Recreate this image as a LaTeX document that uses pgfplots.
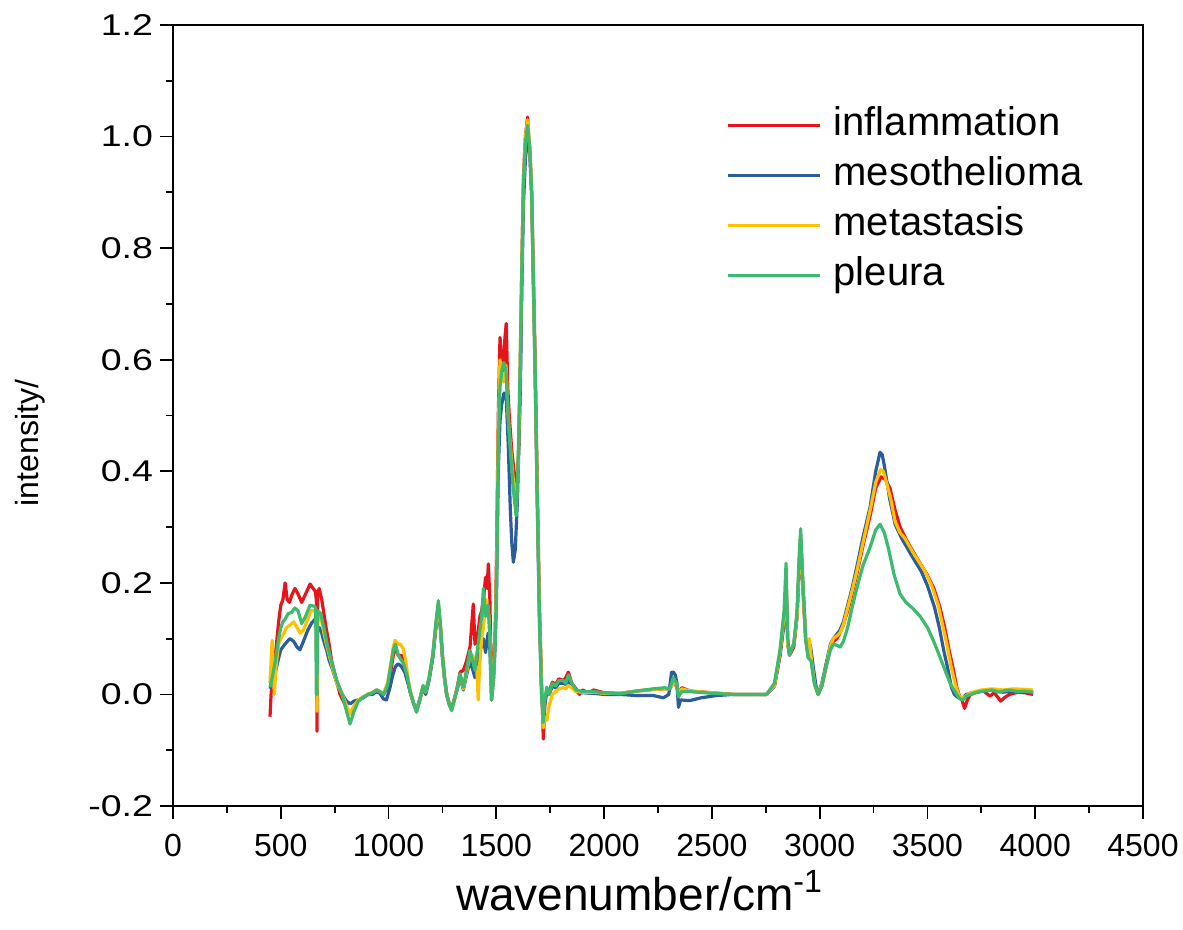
\documentclass[border=0pt]{standalone}
\usepackage{pgfplots}
\pgfplotsset{compat=1.18}
\usepackage{fontspec}
\setmainfont{Liberation Sans}

\definecolor{cinfl}{RGB}{232,20,28}
\definecolor{cmeso}{RGB}{43,92,158}
\definecolor{cmeta}{RGB}{255,192,0}
\definecolor{cpleu}{RGB}{61,186,110}

\begin{document}
\begin{tikzpicture}
\path[use as bounding box] (-86.5pt,-62pt) rectangle (505pt,403pt);
\begin{axis}[
    scale only axis,
    width=485pt, height=390.5pt,
    xmin=0, xmax=4500, ymin=-0.2, ymax=1.2,
    xtick={0,500,...,4500},
    ytick={-0.2,0,0.2,0.4,0.6,0.8,1.0,1.2},
    extra x ticks={250,750,...,4250},
    extra y ticks={-0.1,0.1,0.3,0.5,0.7,0.9,1.1},
    extra x tick labels={}, extra y tick labels={},
    extra tick style={major tick length=3.5pt},
    tick align=outside,
    xtick pos=left, ytick pos=left,
    major tick length=6.5pt,
    every tick/.style={black, line width=0.9pt},
    axis line style={line width=1pt},
    /pgf/number format/assume math mode=true,
    /pgf/number format/1000 sep={},
    yticklabel style={/pgf/number format/.cd, fixed, fixed zerofill, precision=1,
        /tikz/.cd, font=\fontsize{15}{17}\selectfont\addfontfeature{FakeStretch=1.25}},
    xticklabel style={font=\fontsize{16}{18}\selectfont, yshift=-4pt},
    xlabel={wavenumber/cm\textsuperscript{-1}},
    ylabel={intensity/},
    xlabel style={font=\fontsize{23}{26}\selectfont, at={(axis description cs:0.481,-0.108)}, anchor=center},
    ylabel style={font=\fontsize{16}{19}\selectfont, at={(axis description cs:-0.1475,0.4645)}, anchor=center, rotate=0},
    legend style={draw=none, fill=none, at={(0.564,0.905)}, anchor=north west,
        font=\fontsize{20}{24}\selectfont,
        nodes={text height=14pt, text depth=4pt, inner sep=2pt},
        row sep=3pt},
    legend cell align=left,
    legend image code/.code={\draw[#1] (0pt,0pt) -- (46pt,0pt); \path (50pt,0pt);},
    every axis plot/.append style={line width=1.6pt, line join=round},
]
\addplot[cinfl] table {
x y
450 -0.04
455 0.0
462 0.03
475 0.07
490 0.13
500 0.16
510 0.17
520 0.20
530 0.17
540 0.165
553 0.18
566 0.19
580 0.18
597 0.165
615 0.18
636 0.198
650 0.19
660 0.185
665 0.17
668 -0.066
671 0.18
678 0.19
690 0.17
698 0.15
710 0.12
722 0.095
736 0.06
755 0.03
775 0.0
800 -0.02
821 -0.035
840 -0.025
860 -0.01
883 -0.005
905 0.0
925 0.003
945 0.008
960 0.005
976 0.0
995 0.012
1010 0.04
1022 0.07
1032 0.085
1045 0.07
1061 0.07
1075 0.05
1090 0.025
1100 0.005
1115 -0.015
1130 -0.03
1145 -0.01
1160 0.014
1172 0.003
1188 0.028
1205 0.068
1220 0.125
1231 0.16
1240 0.125
1250 0.07
1260 0.03
1270 0.0
1283 -0.018
1293 -0.025
1305 -0.008
1318 0.012
1332 0.04
1347 0.043
1362 0.06
1378 0.085
1393 0.162
1401 0.09
1412 0.10
1424 0.14
1432 0.15
1440 0.17
1450 0.21
1457 0.19
1463 0.234
1470 0.17
1478 0.0
1488 0.05
1495 0.12
1501 0.25
1509 0.50
1517 0.64
1525 0.60
1532 0.58
1540 0.64
1546 0.665
1553 0.55
1560 0.50
1571 0.44
1585 0.39
1595 0.37
1605 0.45
1612 0.6
1618 0.76
1626 0.93
1635 1.0
1645 1.035
1650 1.0
1655 0.98
1664 0.90
1671 0.77
1680 0.60
1690 0.37
1700 0.16
1710 0.02
1718 -0.08
1725 -0.02
1734 0.01
1745 0.005
1760 0.022
1775 0.018
1790 0.028
1811 0.025
1822 0.03
1834 0.04
1850 0.02
1870 0.01
1885 0.0
1900 0.008
1930 0.002
1950 0.008
2000 0.003
2074 0.002
2150 0.006
2228 0.009
2280 0.01
2305 0.01
2321 0.022
2335 0.015
2345 0.002
2360 0.012
2400 0.006
2500 0.003
2600 0.0
2700 0.0
2754 0.0
2790 0.015
2816 0.07
2835 0.13
2844 0.20
2852 0.09
2860 0.07
2880 0.085
2895 0.14
2905 0.23
2912 0.28
2920 0.21
2935 0.10
2946 0.07
2955 0.09
2965 0.05
2980 0.015
2993 0.0
3010 0.015
3030 0.05
3050 0.085
3063 0.095
3080 0.10
3094 0.11
3110 0.125
3130 0.15
3150 0.18
3172 0.215
3200 0.265
3234 0.32
3260 0.37
3285 0.39
3305 0.385
3326 0.37
3350 0.33
3373 0.30
3404 0.276
3450 0.245
3497 0.216
3530 0.19
3558 0.156
3580 0.12
3600 0.08
3620 0.045
3636 0.013
3650 -0.005
3660 -0.01
3672 -0.025
3685 -0.01
3700 0.0
3730 0.004
3760 0.006
3790 -0.003
3810 0.003
3840 -0.012
3860 -0.005
3880 0.0
3920 0.004
3950 0.003
3990 0.0
};
\addlegendentry{inflammation}
\addplot[cmeso] table {
x y
450 0.01
460 0.02
475 0.04
490 0.065
500 0.08
515 0.088
530 0.095
543 0.10
560 0.095
575 0.085
589 0.08
605 0.095
625 0.115
643 0.128
660 0.135
668 0.12
678 0.12
690 0.11
700 0.095
713 0.079
725 0.06
740 0.045
760 0.02
785 0.0
805 -0.012
821 -0.017
840 -0.012
860 -0.01
883 -0.006
905 0.0
925 0.0
945 0.005
960 0.002
976 -0.008
990 -0.01
1005 0.01
1020 0.035
1032 0.05
1045 0.055
1060 0.05
1075 0.04
1090 0.02
1100 0.005
1115 -0.015
1130 -0.028
1145 -0.008
1160 0.012
1172 0.0
1188 0.025
1205 0.065
1220 0.12
1231 0.15
1240 0.12
1250 0.065
1260 0.025
1270 -0.002
1283 -0.02
1293 -0.025
1305 -0.01
1318 0.008
1332 0.03
1347 0.008
1362 0.035
1378 0.06
1390 0.045
1401 0.03
1412 0.055
1424 0.08
1432 0.085
1440 0.10
1450 0.075
1462 0.11
1470 0.08
1478 -0.01
1488 0.03
1495 0.09
1501 0.18
1509 0.40
1517 0.49
1525 0.52
1535 0.54
1545 0.54
1555 0.45
1565 0.33
1572 0.27
1579 0.237
1588 0.26
1598 0.35
1605 0.45
1612 0.56
1618 0.72
1626 0.88
1635 0.96
1645 1.0
1655 0.97
1664 0.89
1671 0.75
1680 0.57
1690 0.34
1700 0.13
1710 0.0
1718 -0.04
1725 -0.015
1734 0.005
1745 0.0
1760 0.015
1775 0.012
1790 0.02
1811 0.02
1822 0.018
1834 0.025
1850 0.015
1870 0.005
1900 0.003
1950 0.002
2000 0.0
2074 0.0
2150 -0.002
2228 -0.002
2275 -0.006
2300 0.0
2313 0.04
2321 0.04
2330 0.035
2338 0.02
2345 -0.023
2355 -0.01
2398 -0.011
2450 -0.006
2522 -0.002
2600 0.0
2700 0.0
2754 0.0
2790 0.015
2816 0.07
2835 0.13
2844 0.20
2852 0.09
2860 0.075
2880 0.09
2895 0.14
2905 0.23
2912 0.28
2920 0.21
2935 0.10
2946 0.075
2958 0.085
2970 0.05
2983 0.015
2993 0.0
3010 0.02
3030 0.055
3050 0.09
3063 0.10
3080 0.108
3094 0.115
3110 0.13
3130 0.16
3150 0.19
3172 0.228
3200 0.28
3234 0.336
3260 0.40
3280 0.434
3290 0.43
3300 0.41
3325 0.35
3350 0.305
3380 0.28
3425 0.25
3472 0.22
3500 0.195
3533 0.156
3555 0.12
3575 0.08
3595 0.045
3611 0.013
3625 0.0
3640 -0.005
3660 -0.008
3680 0.0
3700 0.002
3750 0.006
3800 0.008
3850 0.004
3900 0.006
3950 0.005
3990 0.003
};
\addlegendentry{mesothelioma}
\addplot[cmeta] table {
x y
450 0.02
455 0.06
460 0.097
465 0.05
470 0.0
478 0.05
490 0.09
500 0.10
515 0.11
527 0.12
545 0.125
560 0.13
575 0.12
590 0.11
605 0.115
620 0.13
640 0.15
660 0.15
665 0.14
668 -0.03
671 0.14
680 0.14
690 0.13
700 0.11
715 0.085
735 0.055
760 0.02
785 0.0
805 -0.02
821 -0.035
840 -0.02
860 -0.01
883 -0.004
905 0.0
925 0.003
945 0.008
960 0.005
976 0.002
995 0.02
1010 0.055
1022 0.085
1030 0.097
1045 0.09
1055 0.09
1068 0.082
1080 0.06
1090 0.03
1100 0.008
1115 -0.015
1130 -0.03
1145 -0.01
1160 0.015
1172 0.004
1188 0.03
1205 0.07
1220 0.125
1231 0.16
1240 0.125
1250 0.07
1260 0.028
1270 0.0
1283 -0.02
1293 -0.027
1305 -0.01
1318 0.01
1332 0.035
1347 0.01
1362 0.04
1378 0.07
1390 0.07
1401 0.06
1410 0.04
1416 -0.01
1422 0.05
1432 0.1
1440 0.12
1452 0.17
1460 0.15
1466 0.14
1472 0.09
1478 -0.01
1488 0.04
1495 0.11
1501 0.22
1509 0.47
1517 0.60
1525 0.57
1535 0.56
1545 0.59
1553 0.51
1560 0.47
1575 0.40
1592 0.33
1602 0.42
1610 0.58
1618 0.76
1626 0.92
1635 1.0
1645 1.03
1655 0.98
1664 0.90
1671 0.76
1680 0.58
1690 0.36
1700 0.15
1710 0.01
1718 -0.06
1725 -0.04
1734 -0.047
1745 -0.02
1760 0.0
1775 0.005
1790 0.01
1811 0.012
1822 0.01
1834 0.016
1850 0.012
1870 0.005
1900 0.004
1950 0.004
2000 0.002
2074 0.002
2150 0.006
2228 0.009
2280 0.01
2305 0.01
2321 0.02
2335 0.018
2345 0.0
2360 0.01
2400 0.006
2500 0.003
2600 0.0
2700 0.0
2754 0.0
2790 0.016
2816 0.075
2835 0.14
2844 0.21
2852 0.09
2860 0.075
2880 0.09
2895 0.14
2905 0.24
2912 0.285
2920 0.21
2935 0.10
2946 0.08
2952 0.10
2962 0.06
2978 0.015
2993 0.0
3010 0.018
3030 0.05
3050 0.087
3063 0.10
3080 0.105
3094 0.11
3110 0.125
3130 0.155
3150 0.185
3172 0.22
3200 0.27
3234 0.33
3260 0.38
3282 0.403
3295 0.40
3310 0.38
3330 0.35
3350 0.31
3373 0.29
3395 0.28
3440 0.25
3490 0.22
3520 0.195
3550 0.16
3570 0.125
3590 0.09
3610 0.05
3628 0.02
3640 0.005
3650 -0.005
3670 -0.005
3700 0.003
3750 0.008
3800 0.01
3850 0.008
3900 0.01
3950 0.009
3990 0.008
};
\addlegendentry{metastasis}
\addplot[cpleu] table {
x y
450 0.013
460 0.03
475 0.06
490 0.10
500 0.12
510 0.13
520 0.135
535 0.145
550 0.147
565 0.155
580 0.15
597 0.127
615 0.14
636 0.16
655 0.158
662 0.155
665 0.0
668 0.0
671 0.15
685 0.145
700 0.12
715 0.09
735 0.06
760 0.025
785 0.0
805 -0.03
821 -0.053
840 -0.03
860 -0.012
883 -0.005
905 0.0
925 0.003
945 0.008
960 0.005
976 0.0
995 0.015
1010 0.05
1022 0.08
1032 0.09
1045 0.07
1058 0.062
1070 0.055
1085 0.035
1100 0.005
1115 -0.015
1130 -0.032
1145 -0.01
1160 0.016
1172 0.005
1188 0.03
1205 0.07
1220 0.13
1231 0.168
1240 0.13
1250 0.07
1260 0.03
1270 0.0
1283 -0.02
1293 -0.029
1305 -0.01
1318 0.01
1332 0.037
1347 0.013
1362 0.045
1378 0.079
1390 0.06
1401 0.043
1412 0.08
1424 0.115
1432 0.14
1440 0.19
1450 0.14
1462 0.16
1470 0.10
1478 -0.01
1488 0.04
1495 0.1
1501 0.2
1509 0.44
1517 0.55
1525 0.58
1535 0.595
1545 0.58
1555 0.50
1565 0.44
1578 0.37
1592 0.32
1600 0.40
1610 0.58
1618 0.76
1626 0.92
1635 0.99
1645 1.02
1655 0.98
1664 0.90
1671 0.76
1680 0.58
1690 0.35
1700 0.14
1710 0.0
1718 -0.05
1725 -0.01
1734 0.013
1745 0.0
1760 0.02
1775 0.015
1790 0.025
1811 0.025
1822 0.02
1834 0.035
1850 0.02
1870 0.008
1900 0.005
1950 0.005
2000 0.003
2074 0.001
2150 0.006
2228 0.01
2280 0.012
2305 0.01
2321 0.03
2335 0.02
2345 -0.004
2360 0.005
2400 0.005
2500 0.002
2600 0.0
2700 0.0
2754 0.0
2790 0.02
2816 0.08
2835 0.15
2844 0.235
2852 0.10
2860 0.07
2880 0.09
2895 0.15
2905 0.25
2912 0.297
2920 0.22
2935 0.10
2946 0.066
2960 0.06
2975 0.02
2993 0.0
3010 0.015
3030 0.05
3050 0.08
3063 0.09
3080 0.088
3095 0.085
3110 0.095
3130 0.12
3150 0.155
3172 0.19
3200 0.23
3234 0.264
3260 0.295
3280 0.305
3300 0.29
3320 0.26
3345 0.215
3373 0.18
3400 0.165
3430 0.155
3466 0.14
3500 0.12
3527 0.097
3550 0.075
3570 0.055
3590 0.035
3605 0.02
3620 0.01
3636 0.0
3650 -0.008
3665 -0.01
3680 -0.003
3700 0.0
3730 0.004
3760 0.006
3800 0.008
3830 0.004
3850 0.006
3880 0.008
3920 0.005
3950 0.006
3990 0.004
};
\addlegendentry{pleura}
\end{axis}
\end{tikzpicture}
\end{document}
